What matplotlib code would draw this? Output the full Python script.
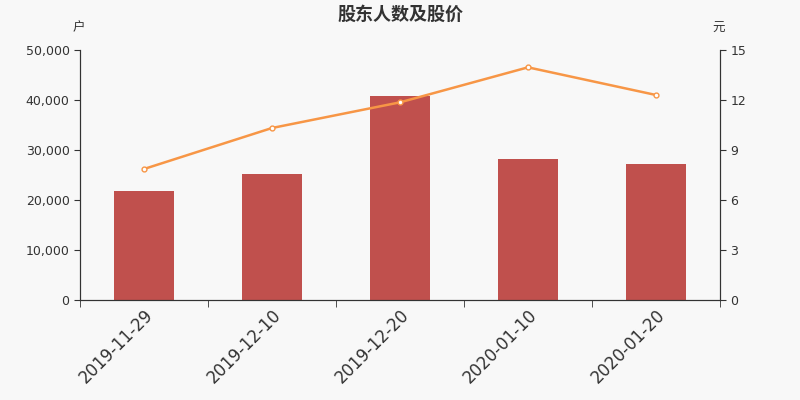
import numpy as np
import matplotlib.pyplot as plt
from matplotlib.ticker import FuncFormatter

plt.rcParams['font.family'] = ['DejaVu Sans', 'Noto Sans CJK SC']

dates = ["2019-11-29", "2019-12-10", "2019-12-20", "2020-01-10", "2020-01-20"]
holders = [21800, 25200, 40900, 28300, 27300]
price = [7.86, 10.32, 11.86, 13.96, 12.30]

bg = '#f8f8f8'
cjk = ['Noto Sans CJK SC', 'DejaVu Sans']
fig = plt.figure(figsize=(8, 4), dpi=100, facecolor=bg)
ax = fig.add_axes([0.1, 0.25, 0.8, 0.625])
ax.set_facecolor(bg)
x = np.arange(len(dates))

ax.bar(x, holders, width=0.47, color='#c0504d', zorder=2)
ax.set_xlim(-0.5, len(dates) - 0.5)
ax.set_ylim(0, 50000)
ax.set_yticks(np.arange(0, 50001, 10000))
ax.yaxis.set_major_formatter(FuncFormatter(lambda v, p: f"{int(v):,}"))
ax.set_xticks(x)
ax.set_xticklabels(dates, rotation=45, ha='right', rotation_mode='anchor', fontsize=12, color='#333333')
ax.tick_params(axis='x', length=0, pad=4)
ax.set_xticks(np.arange(-0.5, len(dates), 1), minor=True)
ax.tick_params(axis='x', which='minor', length=5, color='#333333')
ax.tick_params(axis='y', labelsize=9, colors='#333333', length=4)

ax2 = ax.twinx()
ax2.plot(x, price, color='#f79646', lw=1.8, marker='o', ms=3.5,
         markerfacecolor='white', markeredgecolor='#f79646', mew=1, zorder=3)
ax2.set_ylim(0, 15)
ax2.set_yticks(np.arange(0, 16, 3))
ax2.tick_params(axis='y', labelsize=9, colors='#333333', length=4)

for a in (ax, ax2):
    a.spines['top'].set_visible(False)
    for s in ('left', 'right', 'bottom'):
        a.spines[s].set_color('#333333')

fig.text(0.5, 0.965, "股东人数及股价", ha='center', va='center', fontsize=13,
         fontweight='bold', color='#333333', family=cjk)
fig.text(0.098, 0.93, "户", ha='center', va='center', fontsize=9, color='#333333', family=cjk)
fig.text(0.898, 0.93, "元", ha='center', va='center', fontsize=9, color='#333333', family=cjk)

fig.savefig('out.png', dpi=100, facecolor=bg)
